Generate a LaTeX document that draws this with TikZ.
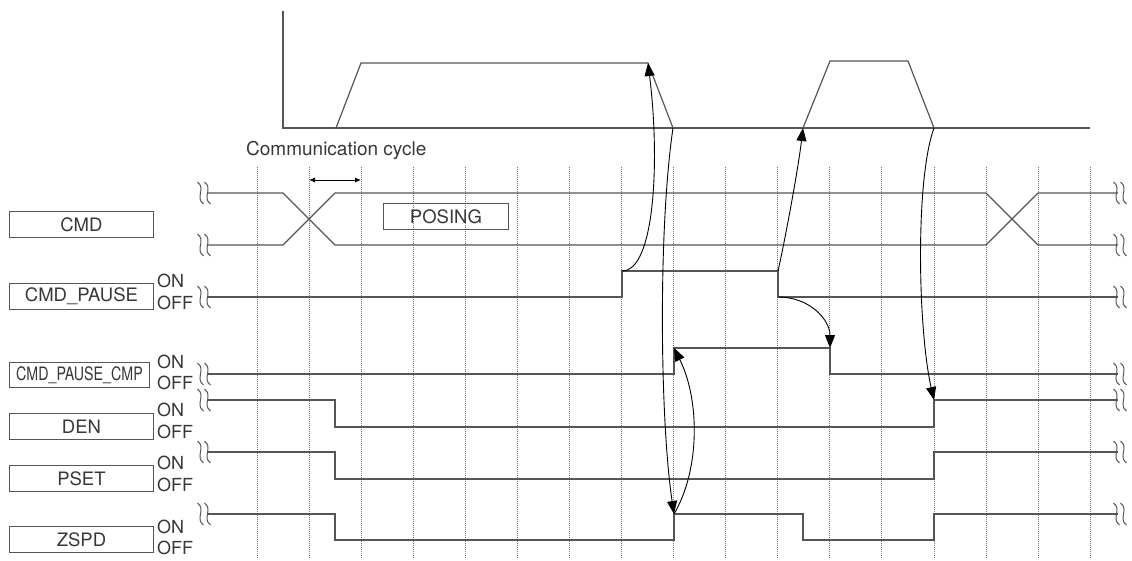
\documentclass[tikz,border=0pt]{standalone}
\usepackage{fontspec}
\setmainfont{TeX Gyre Heros}
\usetikzlibrary{arrows.meta}
\definecolor{sigc}{RGB}{85,85,85}
\definecolor{gridc}{RGB}{120,120,120}
\definecolor{txtc}{RGB}{55,55,55}
\begin{document}
\begin{tikzpicture}[x=1pt,y=-1pt,
  sig/.style={draw=sigc, line width=1.2pt},
  gridln/.style={draw=gridc, line width=0.8pt, dash pattern=on 1pt off 1pt},
  lbl/.style={draw=sigc, line width=0.9pt, minimum width=144pt, minimum height=26pt, inner sep=0pt, text=txtc, font=\fontsize{18.5}{18.5}\selectfont, anchor=north west},
  onoff/.style={text=txtc, font=\fontsize{18}{18}\selectfont, anchor=west, inner sep=0pt},
  arr/.style={draw=black, line width=0.9pt, -{Triangle[length=13pt,width=10pt]}},
  brk/.pic={
    \draw[sigc, line width=1pt] (-6.5,-11) .. controls (2.5,-4) and (-9.5,4) .. (-0.5,11);
    \draw[sigc, line width=1pt] (0.5,-11) .. controls (9.5,-4) and (-2.5,4) .. (6.5,11);
  }
]
\useasboundingbox (0,0) rectangle (1132,561);

% grid
\foreach \k in {0,...,16} {
  \draw[gridln] ({257+52.07*\k},167) -- ({257+52.07*\k},558);
}

% velocity graph
\draw[sig] (283,11) -- (283,128) -- (1090,128);
\coordinate (t1a) at (336,128);
\coordinate (t1b) at (361,63);
\coordinate (t1c) at (648,63);
\coordinate (t1d) at (673,128);
\coordinate (t2a) at (803,128);
\coordinate (t2b) at (830,61);
\coordinate (t2c) at (908,61);
\coordinate (t2d) at (934,128);
\draw[sig] (t1a) -- (t1b) -- (t1c) -- (t1d);
\draw[sig] (t2a) -- (t2b) -- (t2c) -- (t2d);

% communication cycle
\node[text=txtc, font=\fontsize{19}{19}\selectfont, anchor=base west, inner sep=0pt] (cc) at (246,156) {Communication cycle};
\coordinate (cca) at (309,180);
\coordinate (ccb) at (361,180);
\draw[black, line width=0.9pt, {Latex[length=6pt,width=5pt]}-{Latex[length=6pt,width=5pt]}] (cca) -- (ccb);

% labels
\node[lbl] (lcmd) at (9,211) {CMD};
\node[lbl] (lpause) at (9,283) {CMD\_PAUSE};
\node[lbl, minimum width=140pt, minimum height=25pt] (lcmp) at (9,362) {\scalebox{0.77}[1]{CMD\_PAUSE\_CMP}};
\node[lbl] (lden) at (9,413) {DEN};
\node[lbl] (lpset) at (9,465) {PSET};
\node[lbl] (lzspd) at (9,526) {ZSPD};
\node[lbl, minimum width=125pt] (lposing) at (383,203) {POSING};

\node[onoff] (on1) at (157,281) {ON};
\node[onoff] (off1) at (157,303) {OFF};
\node[onoff] (on2) at (157,362) {ON};
\node[onoff] (off2) at (157,383) {OFF};
\node[onoff] (on3) at (157,410) {ON};
\node[onoff] (off3) at (157,432) {OFF};
\node[onoff] (on4) at (157,463) {ON};
\node[onoff] (off4) at (157,485) {OFF};
\node[onoff] (on5) at (157,527) {ON};
\node[onoff] (off5) at (157,548) {OFF};

% signals
\draw[sig] (207,193) -- (283,193) -- (335,245) -- (986,245) -- (1038,193) -- (1118,193);
\draw[sig] (207,245) -- (283,245) -- (335,193) -- (986,193) -- (1038,245) -- (1118,245);
\coordinate (pr0) at (622,297);
\coordinate (pr1) at (622,271);
\coordinate (pf1) at (778,271);
\coordinate (pf0) at (778,297);
\draw[sig] (207,297) -- (pr0) -- (pr1) -- (pf1) -- (pf0) -- (1118,297);
\coordinate (cr0) at (674,374);
\coordinate (cr1) at (674,348);
\coordinate (cf1) at (830,348);
\coordinate (cf0) at (830,374);
\draw[sig] (207,374) -- (cr0) -- (cr1) -- (cf1) -- (cf0) -- (1118,374);
\coordinate (dr0) at (934,427);
\coordinate (dr1) at (934,400);
\draw[sig] (207,400) -- (335,400) -- (335,427) -- (dr0) -- (dr1) -- (1118,400);
\draw[sig] (207,452) -- (335,452) -- (335,479) -- (934,479) -- (934,452) -- (1118,452);
\coordinate (zr0) at (674,540);
\coordinate (zr1) at (674,514);
\draw[sig] (207,514) -- (335,514) -- (335,540) -- (zr0) -- (zr1) -- (803,514) -- (803,540) -- (934,540) -- (934,514) -- (1118,514);

% break marks
\foreach \yy in {193,245,297,374,400,452,514} {
  \pic at (204,\yy) {brk};
  \pic at (1120,\yy) {brk};
}

% arrows
\draw[arr] (pr1) .. controls (655,271) and (660,160) .. (t1c);
\draw[arr] (t1d) .. controls (658,230) and (660,420) .. (zr1);
\draw[arr] (zr1) .. controls (700,470) and (700,400) .. (cr1);
\draw[arr] (pf1) .. controls (785,240) and (798,170) .. (t2a);
\draw[arr] (pf0) .. controls (810,297) and (830,320) .. (cf1);
\draw[arr] (t2d) .. controls (915,180) and (918,330) .. (dr1);
\end{tikzpicture}
\end{document}
